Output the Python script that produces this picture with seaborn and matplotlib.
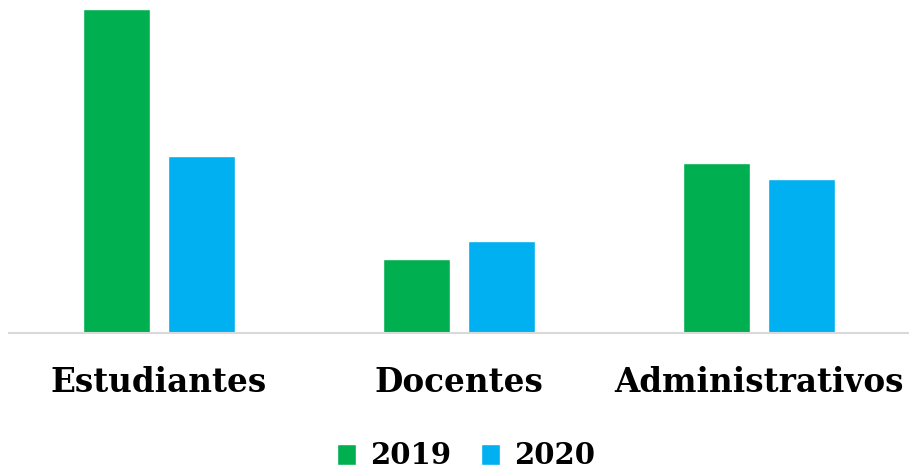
import matplotlib
matplotlib.use("Agg")
import matplotlib.pyplot as plt
import seaborn as sns
import pandas as pd
from matplotlib.patches import Patch

categories = ["Estudiantes", "Docentes", "Administrativos"]
years = ["2019", "2020"]
values_2019 = [324, 74, 170]
values_2020 = [177, 92, 154]
colors = {"2019": "#00B050", "2020": "#00B0F0"}

df = pd.DataFrame({
    "grupo": categories * 2,
    "anio": ["2019"] * 3 + ["2020"] * 3,
    "valor": values_2019 + values_2020,
})

sns.set_theme(style="white")
plt.rcParams["font.family"] = ["DejaVu Serif", "Liberation Serif"]

fig = plt.figure(figsize=(9.09, 4.75), dpi=100)
ax = fig.add_axes([9 / 909, (475 - 333) / 475, 900 / 909, (333 - 9) / 475])

sns.barplot(data=df, x="grupo", y="valor", hue="anio", order=categories,
            hue_order=years, palette=colors, width=0.567, gap=0.212,
            saturation=1, legend=False, ax=ax)

ax.set_xlim(-0.5, 2.5)
ax.set_ylim(0, max(values_2019 + values_2020))
ax.set_xlabel("")
ax.set_ylabel("")
ax.set_yticks([])
for s in ["left", "right", "top"]:
    ax.spines[s].set_visible(False)
ax.spines["bottom"].set_color("#D9D9D9")
ax.spines["bottom"].set_linewidth(1.5)
ax.tick_params(axis="x", length=0, pad=24, labelsize=23.5)
for lab in ax.get_xticklabels():
    lab.set_fontweight("bold")
    lab.set_color("#000000")

handles = [Patch(facecolor=colors[y], label=y) for y in years]
leg = fig.legend(handles=handles, loc="center", bbox_to_anchor=(466 / 909, 1 - 456 / 475),
                 ncol=2, frameon=False, prop={"weight": "bold", "size": 21},
                 handlelength=0.65, handleheight=0.72, handletextpad=0.48, columnspacing=1.0)
for t in leg.get_texts():
    t.set_color("#000000")

fig.savefig("out.png", dpi=100)
